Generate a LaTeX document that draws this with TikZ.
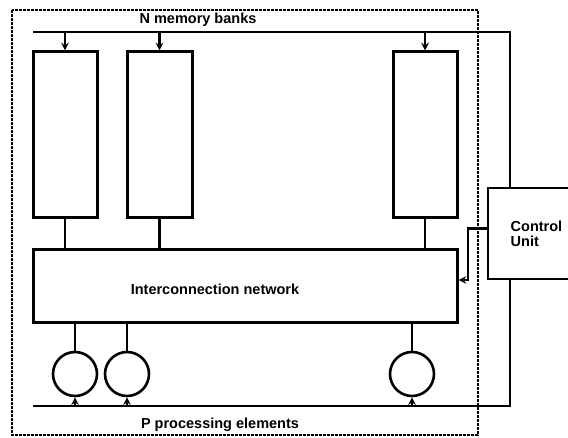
\documentclass[tikz,border=0pt]{standalone}
\usepackage{fontspec}
\setmainfont{Liberation Sans}
\usetikzlibrary{positioning}

\begin{document}
\begin{tikzpicture}[x=1pt, y=-1pt, >=stealth,
    bank/.style={draw, line width=3pt, minimum width=64pt, minimum height=166pt, inner sep=0pt},
    pe/.style={draw, circle, line width=2.6pt, minimum size=44pt, inner sep=0pt},
    bus/.style={line width=2pt},
    link/.style={line width=2.4pt},
    dashbox/.style={line width=1.8pt, dash pattern=on 3pt off 1pt},
    lbl/.style={font=\fontsize{14.5}{15}\selectfont\bfseries}]
    \useasboundingbox (0,0) rectangle (568,438);

    \draw[dashbox] (12,10) rectangle (478,435);

    \node[bank] (bank1) at (65,135) {};
    \node[bank, minimum width=65pt] (bank2) at (159.5,135) {};
    \node[bank] (bank3) at (425,135) {};

    \node[draw, line width=3pt, minimum width=424pt, minimum height=73pt, inner sep=0pt] (net) at (245,286.5) {};
    \node[lbl] (netlabel) at (215,289) {Interconnection network};

    \node[pe] (pe1) at (75,374) {};
    \node[pe] (pe2) at (127,374) {};
    \node[pe] (pe3) at (412,374) {};

    \node[draw, line width=2.6pt, minimum width=97pt, minimum height=91pt, inner sep=0pt,
          lbl, align=left] (ctrl) at (536.5,233.5) {Control\\Unit};

    \node[lbl] (toplabel) at (198,20) {N memory banks};
    \node[lbl] (botlabel) at (220,425) {P processing elements};

    % buses to the control unit
    \coordinate (topL) at (33,32);
    \coordinate (topR) at (510,32);
    \coordinate (botL) at (33,406);
    \coordinate (botR) at (510,406);
    \draw[bus] (topL) -- (topR) -- (topR |- ctrl.north);
    \draw[bus] (botL) -- (botR) -- (botR |- ctrl.south);

    \foreach \b in {bank1,bank2,bank3} {
        \draw[link, ->] (\b.north |- topL) -- (\b.north);
        \draw[link] (\b.south) -- (\b.south |- net.north);
    }
    \foreach \p in {pe1,pe2,pe3} {
        \draw[link] (\p.north |- net.south) -- (\p.north);
        \draw[link, ->] (\p.south |- botL) -- (\p.south);
    }

    \coordinate (cbend) at (468,280);
    \draw[link, ->] ([yshift=5pt]ctrl.west) -| (cbend) -- (net.east |- cbend);
\end{tikzpicture}
\end{document}
